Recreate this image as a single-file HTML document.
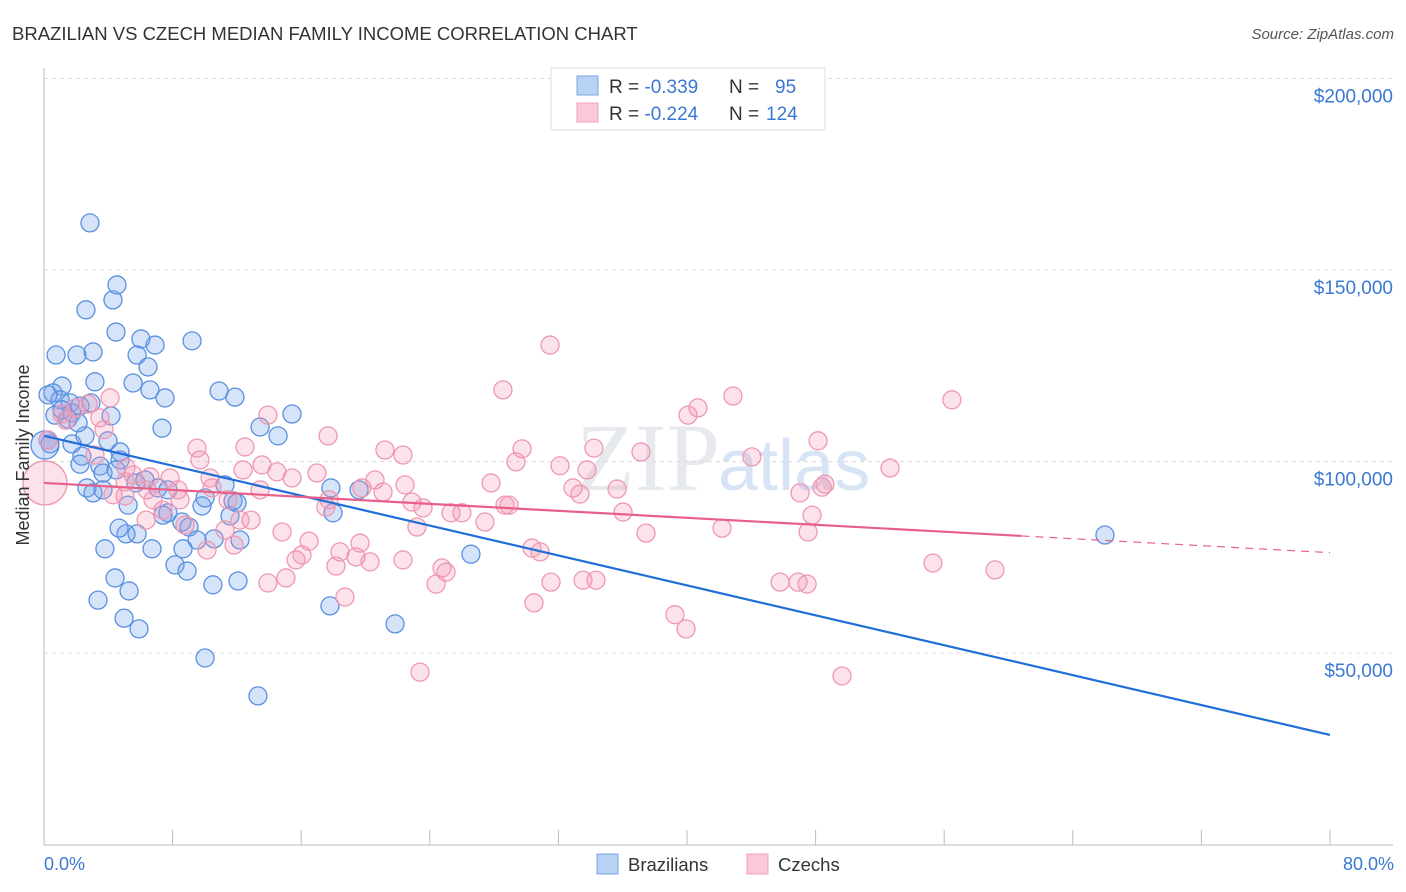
<!DOCTYPE html>
<html><head><meta charset="utf-8"><style>
body{margin:0;background:#fff;font-family:"Liberation Sans",sans-serif;}
svg{display:block}
</style></head><body>
<svg id="chart" width="1406" height="892" viewBox="0 0 1406 892">
<text x="12" y="40" font-size="18.5" fill="#333">BRAZILIAN VS CZECH MEDIAN FAMILY INCOME CORRELATION CHART</text>
<text x="1394" y="39" font-size="15" fill="#555" font-style="italic" text-anchor="end">Source: ZipAtlas.com</text>
<text x="720" y="490" font-size="96" fill="#e6e9ee" text-anchor="end" font-family="Liberation Serif, serif">ZIP</text>
<text x="718" y="490" font-size="72" fill="#d7e4f5">atlas</text>
<g id="grid"></g>
<g id="axes"></g>
<g id="points"></g>
<g id="trends"></g>
<text x="29" y="455" font-size="18" fill="#333" text-anchor="middle" transform="rotate(-90 29 455)">Median Family Income</text>
<text x="44" y="870" font-size="18" fill="#3a78d4">0.0%</text>
<text x="1394" y="870" font-size="18" fill="#3a78d4" text-anchor="end">80.0%</text>
<g>
<rect x="551" y="68" width="274" height="62" fill="#fff" stroke="#ddd"/>
<rect x="577" y="76" width="21" height="19" fill="#b8d2f4" stroke="#7aa6e4"/>
<rect x="577" y="103" width="21" height="19" fill="#fac8d6" stroke="#f0a0b8"/>
<text x="609" y="93" font-size="19" fill="#333">R = <tspan fill="#3a78d4">-0.339</tspan><tspan x="729">N =</tspan><tspan x="775" fill="#3a78d4">95</tspan></text>
<text x="609" y="120" font-size="19" fill="#333">R = <tspan fill="#3a78d4">-0.224</tspan><tspan x="729">N =</tspan><tspan x="766" fill="#3a78d4">124</tspan></text>
</g>
<g>
<rect x="597" y="854" width="21" height="20" fill="#b8d2f4" stroke="#7aa6e4"/>
<text x="628" y="871" font-size="18.5" fill="#333">Brazilians</text>
<rect x="747" y="854" width="21" height="20" fill="#fac8d6" stroke="#f0a0b8"/>
<text x="778" y="871" font-size="18.5" fill="#333">Czechs</text>
</g>
</svg>
<script>
const yTicks=[50,100,150,200];
const yTickLabels=["$50,000","$100,000","$150,000","$200,000"];
const xTicks=[0,8,16,24,32,40,48,56,64,72,80];
const blueX=[2.86,2.61,4.29,4.54,4.48,3.05,0.75,2.05,6.03,6.91,9.21,5.79,6.47,3.17,5.54,6.59,7.53,10.89,11.88,1.12,0.56,1.0,1.62,2.24,4.17,1.74,0.68,7.34,13.44,14.56,15.43,2.55,1.74,0.37,3.98,4.73,0.25,2.36,3.48,2.24,4.73,5.72,3.67,2.67,3.05,3.67,5.23,7.09,7.71,7.40,9.83,8.58,9.02,9.52,11.76,12.01,11.26,17.85,19.60,17.98,5.79,5.10,4.67,3.79,6.72,8.65,10.58,12.19,8.15,8.90,4.42,10.51,12.07,5.29,3.36,4.98,5.91,17.79,21.84,26.56,10.02,13.31,66.0,0.06,1.49,4.48,6.28,7.71,10.02,11.57,0.25,1.12,2.92,2.12];
const blueY=[162.3,139.6,142.2,146.1,133.8,128.6,127.8,127.8,132.0,130.4,131.5,127.8,124.7,120.8,120.5,118.7,116.6,118.4,116.8,119.7,117.9,116.1,115.3,114.5,111.9,112.7,112.1,108.7,109.0,106.7,112.4,106.7,104.6,104.6,105.4,102.5,105.6,101.4,98.8,99.3,100.4,94.4,97.0,93.1,91.8,92.6,88.6,93.1,86.6,86.0,88.4,84.2,82.9,79.5,89.7,89.2,93.9,93.1,92.6,86.6,81.1,81.1,82.6,77.2,77.2,77.2,79.8,79.5,73.0,71.4,69.6,67.8,68.8,66.2,63.8,59.1,56.3,62.3,57.6,75.8,48.7,38.8,80.8,104.3,111.1,97.8,95.2,92.6,90.5,85.8,117.4,113.5,115.3,110.1];
const pinkX=[0.06,0.25,1.12,2.74,1.99,3.48,4.11,3.17,5.10,5.54,4.29,5.04,6.41,6.78,7.40,8.34,7.84,6.35,8.77,9.52,10.33,10.45,11.45,12.19,10.14,11.26,11.82,12.88,12.50,12.38,13.56,13.93,14.49,15.43,14.81,13.93,15.05,15.68,16.05,16.49,17.67,16.98,17.54,17.73,18.16,18.72,18.41,19.41,19.66,20.28,19.78,20.59,21.09,21.21,22.33,22.46,22.89,23.58,22.33,23.20,24.39,24.76,25.01,25.32,26.0,27.43,27.81,28.55,28.68,28.93,29.36,29.74,30.48,30.36,30.86,31.48,32.10,31.54,32.91,33.34,33.78,33.53,34.34,34.21,35.65,36.02,37.45,37.14,39.25,39.94,40.06,40.68,42.18,42.86,44.04,45.79,47.03,46.91,47.47,47.53,47.78,48.15,48.40,48.58,49.64,52.63,55.30,56.48,59.16,23.39,5.04,6.59,8.46,9.70,13.44,1.37,3.73];
const pinkY=[94.4,105.6,112.4,115.0,114.0,111.4,116.6,101.7,98.4,96.5,91.3,94.7,92.6,90.0,87.3,92.6,95.7,84.7,83.4,103.5,95.7,93.1,90.0,84.7,76.9,82.1,78.2,84.7,103.8,97.8,99.1,112.1,97.3,95.7,81.6,68.3,69.6,74.3,75.6,79.2,106.7,97.0,88.1,90.0,72.7,64.6,76.4,75.1,78.7,73.8,93.1,95.2,92.0,103.0,101.7,93.9,89.4,87.9,74.3,82.9,68.0,72.2,71.1,86.6,86.6,84.2,94.4,118.7,88.6,88.6,99.9,103.3,63.1,77.4,76.4,130.4,98.9,68.5,93.1,91.5,97.8,69.0,69.0,103.5,92.8,86.8,81.3,102.5,60.0,56.3,112.1,114.0,82.6,117.1,101.2,68.5,91.8,68.5,68.0,81.6,86.0,105.4,93.3,94.1,44.0,98.3,73.5,116.1,71.7,45.0,91.0,96.0,90.0,100.4,92.6,110.8,108.3];
const blueTrend=[106.7,28.6];
const pinkTrend=[94.4,76.2];
const pinkSolidEnd=60.8;

const NS="http://www.w3.org/2000/svg";
const X0=44,X1=1330,Y0=844.5,PX_PER_K=191.5/50;
function sx(v){return X0+(X1-X0)*v/80;}
function sy(v){return Y0-v*PX_PER_K;}
function mk(tag,attrs,parent){const e=document.createElementNS(NS,tag);for(const k in attrs)e.setAttribute(k,attrs[k]);parent.appendChild(e);return e;}
const grid=document.getElementById('grid'),axes=document.getElementById('axes'),pts=document.getElementById('points'),tr=document.getElementById('trends');
yTicks.forEach((t,i)=>{
 const l=mk('line',{x1:X0,x2:1393,y1:sy(t),y2:sy(t),stroke:'#dcdcdc','stroke-dasharray':'4,4'},grid);
 
 
 const tx=mk('text',{x:1393,y:sy(t)+24,'font-size':19,fill:'#3a78d4','text-anchor':'end'},grid);
 tx.textContent=yTickLabels[i];
 
 
});
const ya=mk('line',{x1:X0,x2:X0,y1:68,y2:845,stroke:'#bbb'},axes);


const xa=mk('line',{x1:X0,x2:1393,y1:845,y2:845,stroke:'#bbb'},axes);


xTicks.forEach(t=>{
 const l=mk('line',{x1:sx(t),x2:sx(t),y1:830,y2:845,stroke:'#bbb'},axes);
 
 
});
function drawSeries(xs,ys,fill,stroke,name,bigIdx,bigR){
 xs.forEach((x,i)=>{
  const c=mk('circle',{cx:sx(x),cy:sy(ys[i]),r:i===bigIdx?bigR:9,fill:fill,stroke:stroke,'stroke-width':1.3},pts);
  
  
 });
}
drawSeries(blueX,blueY,'rgba(120,165,235,0.3)','#5a90e0','point-brazilian',83,14);
drawSeries(pinkX,pinkY,'rgba(245,150,180,0.28)','#ee98b2','point-czech',0,22);
const bl=mk('line',{x1:sx(0),y1:sy(blueTrend[0]),x2:sx(80),y2:sy(blueTrend[1]),stroke:'#1f6fd6','stroke-width':2.2},tr);


const pMid=pinkTrend[0]+(pinkTrend[1]-pinkTrend[0])*pinkSolidEnd/80;
const pl=mk('line',{x1:sx(0),y1:sy(pinkTrend[0]),x2:sx(pinkSolidEnd),y2:sy(pMid),stroke:'#e8608a','stroke-width':2.2},tr);


const pd=mk('line',{x1:sx(pinkSolidEnd),y1:sy(pMid),x2:sx(80),y2:sy(pinkTrend[1]),stroke:'#e8608a','stroke-width':1.2,'stroke-dasharray':'8,6'},tr);


</script>
</body></html>
